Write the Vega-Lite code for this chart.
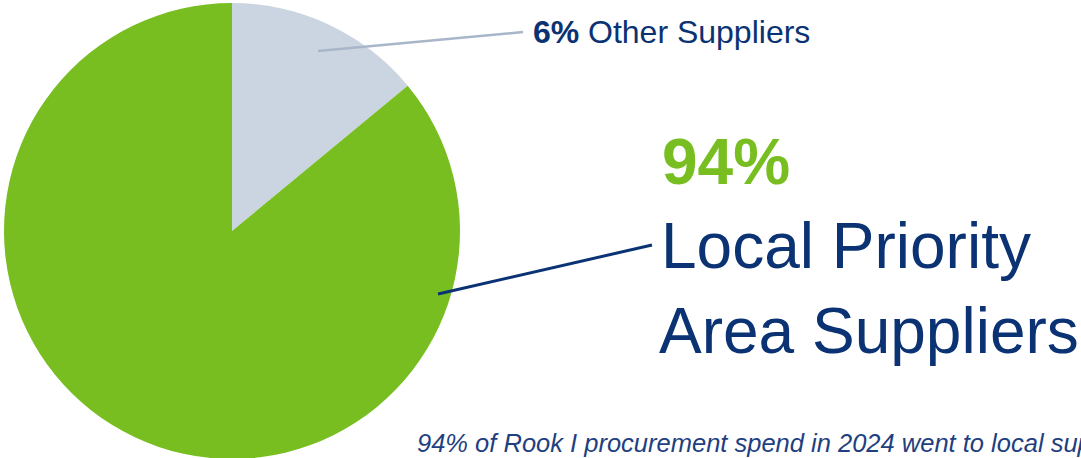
{
  "$schema": "https://vega.github.io/schema/vega-lite/v6.json",
  "width": 1081,
  "height": 458,
  "padding": 0,
  "autosize": {"type": "none"},
  "background": "#ffffff",
  "config": {"view": {"stroke": null}},
  "layer": [
    {
      "data": {"values": [
        {"segment": "Other Suppliers", "share": 14, "ord": 1, "cx": 232, "cy": 231},
        {"segment": "Local Priority Area Suppliers", "share": 86, "ord": 2, "cx": 232, "cy": 231}
      ]},
      "mark": {"type": "arc", "outerRadius": 228},
      "encoding": {
        "theta": {"field": "share", "type": "quantitative", "stack": true},
        "order": {"field": "ord", "type": "quantitative"},
        "color": {"field": "segment", "type": "nominal", "legend": null,
          "scale": {"domain": ["Other Suppliers", "Local Priority Area Suppliers"], "range": ["#CBD5E1", "#78BE21"]}},
        "x": {"field": "cx", "type": "quantitative", "axis": null, "scale": {"domain": [0, 1081], "nice": false, "zero": false}},
        "y": {"field": "cy", "type": "quantitative", "axis": null, "scale": {"domain": [0, 458], "nice": false, "zero": false, "reverse": true}}
      }
    },
    {
      "data": {"values": [{"x1": 318, "y1": 51, "x2": 523, "y2": 32}]},
      "mark": {"type": "rule", "stroke": "#A9B6CA", "strokeWidth": 2.5},
      "encoding": {
        "x": {"field": "x1", "type": "quantitative"},
        "y": {"field": "y1", "type": "quantitative"},
        "x2": {"field": "x2"},
        "y2": {"field": "y2"}
      }
    },
    {
      "data": {"values": [{"x1": 438, "y1": 294, "x2": 652, "y2": 245}]},
      "mark": {"type": "rule", "stroke": "#0B3373", "strokeWidth": 3},
      "encoding": {
        "x": {"field": "x1", "type": "quantitative"},
        "y": {"field": "y1", "type": "quantitative"},
        "x2": {"field": "x2"},
        "y2": {"field": "y2"}
      }
    },
    {
      "data": {"values": [{"label": "6%", "x": 533, "y": 43}]},
      "mark": {"type": "text", "font": "Liberation Sans", "fontWeight": "bold", "fontSize": 32, "fill": "#0B3373", "align": "left", "baseline": "alphabetic"},
      "encoding": {
        "x": {"field": "x", "type": "quantitative"},
        "y": {"field": "y", "type": "quantitative"},
        "text": {"field": "label"}
      }
    },
    {
      "data": {"values": [{"label": "Other Suppliers", "x": 588, "y": 43}]},
      "mark": {"type": "text", "font": "Liberation Sans", "fontSize": 32, "fill": "#0B3373", "align": "left", "baseline": "alphabetic"},
      "encoding": {
        "x": {"field": "x", "type": "quantitative"},
        "y": {"field": "y", "type": "quantitative"},
        "text": {"field": "label"}
      }
    },
    {
      "data": {"values": [{"label": "94%", "x": 662, "y": 184}]},
      "mark": {"type": "text", "font": "Liberation Sans", "fontWeight": "bold", "fontSize": 64, "fill": "#78BE21", "align": "left", "baseline": "alphabetic"},
      "encoding": {
        "x": {"field": "x", "type": "quantitative"},
        "y": {"field": "y", "type": "quantitative"},
        "text": {"field": "label"}
      }
    },
    {
      "data": {"values": [
        {"label": "Local Priority", "x": 661, "y": 268},
        {"label": "Area Suppliers", "x": 659, "y": 353}
      ]},
      "mark": {"type": "text", "font": "Liberation Sans", "fontSize": 64, "fill": "#0B3373", "align": "left", "baseline": "alphabetic"},
      "encoding": {
        "x": {"field": "x", "type": "quantitative"},
        "y": {"field": "y", "type": "quantitative"},
        "text": {"field": "label"}
      }
    },
    {
      "data": {"values": [{"label": "94% of Rook I procurement spend in 2024 went to local suppliers.", "x": 417, "y": 452}]},
      "mark": {"type": "text", "font": "Liberation Sans", "fontStyle": "italic", "fontSize": 25.5, "fill": "#1F3F80", "align": "left", "baseline": "alphabetic"},
      "encoding": {
        "x": {"field": "x", "type": "quantitative"},
        "y": {"field": "y", "type": "quantitative"},
        "text": {"field": "label"}
      }
    }
  ]
}
